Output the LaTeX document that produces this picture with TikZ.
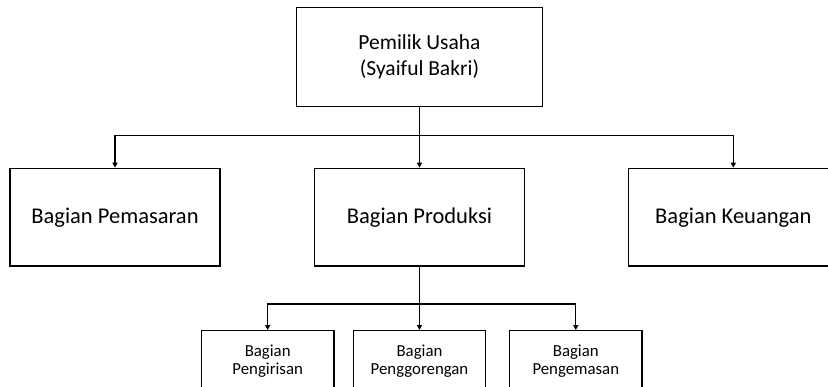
\documentclass[tikz,border=0pt]{standalone}
\usepackage{fontspec}
\setmainfont{Carlito}
\usetikzlibrary{arrows.meta}
\begin{document}
\begin{tikzpicture}[x=1pt,y=-1pt,
  box/.style={draw=black,line width=1.3pt,rectangle,inner sep=0pt,align=center,text=black},
  bigbox/.style={box,minimum width=210pt,minimum height=97.7pt,font=\fontsize{22.5}{26}\selectfont},
  smallbox/.style={box,minimum width=132.5pt,minimum height=60.6pt,font=\fontsize{16.8}{18.5}\selectfont},
  conn/.style={line width=1.3pt,-{Triangle[length=5pt,width=5pt]}}]
\useasboundingbox (0,0) rectangle (828,387);
\clip (0,0) rectangle (828,387);
\node[box,minimum width=245.6pt,minimum height=99pt,font=\fontsize{21.5}{26}\selectfont] (top) at (419.5,57) {Pemilik Usaha\\(Syaiful Bakri)};
\node[bigbox] (left) at (115,217.2) {Bagian Pemasaran};
\node[bigbox] (mid) at (419.5,217.2) {Bagian Produksi};
\node[bigbox] (right) at (733.3,217.2) {Bagian Keuangan};
\node[smallbox] (s1) at (267.7,361) {Bagian\\Pengirisan};
\node[smallbox] (s2) at (419.5,361) {Bagian\\Penggorengan};
\node[smallbox] (s3) at (575.8,361) {Bagian\\Pengemasan};
\coordinate (busY) at (0,135.7);
\coordinate (subY) at (0,304);
\draw[conn] (top.south) -- (mid.north);
\draw[conn] (top.south |- busY) -| (left.north);
\draw[conn] (top.south |- busY) -| (right.north);
\draw[conn] (mid.south) -- (s2.north);
\draw[conn] (mid.south |- subY) -| (s1.north);
\draw[conn] (mid.south |- subY) -| (s3.north);
\end{tikzpicture}
\end{document}
